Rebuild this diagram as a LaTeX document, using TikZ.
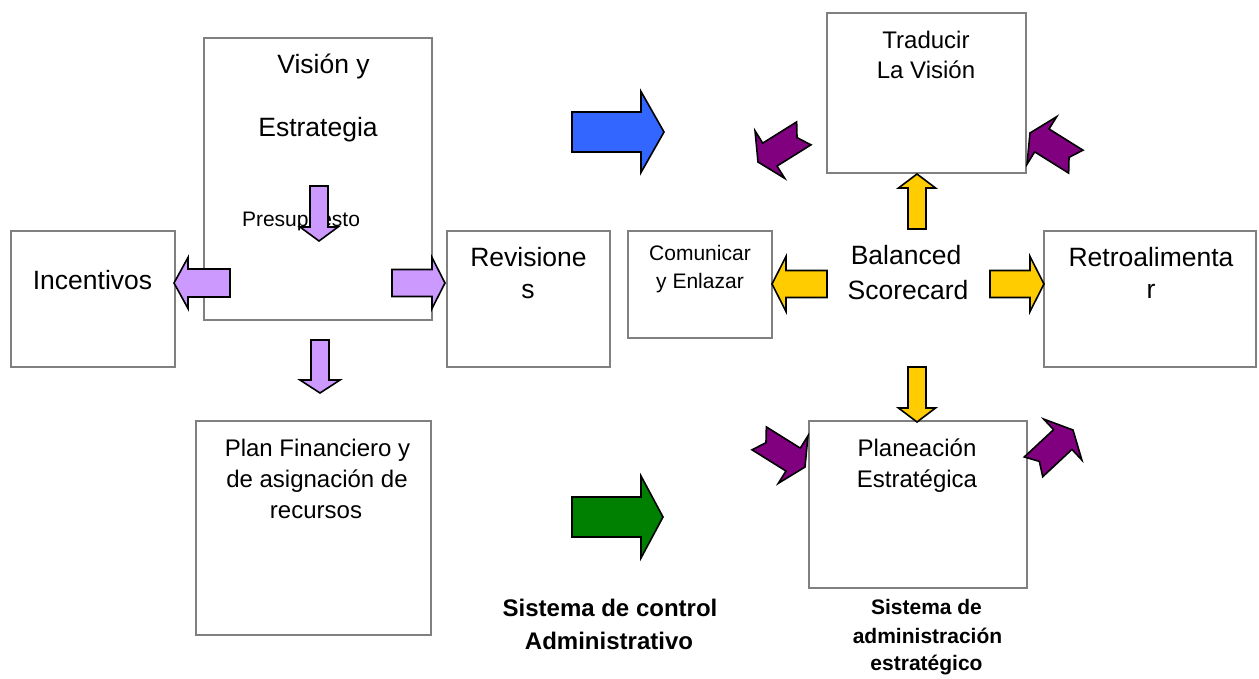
\documentclass[tikz,border=0pt]{standalone}
\usepackage{fontspec}
\setmainfont{Liberation Sans}
\definecolor{lav}{HTML}{CC99FF}
\definecolor{plum}{HTML}{800080}
\definecolor{gold}{HTML}{FFCC00}
\definecolor{bluearr}{HTML}{3366FF}
\definecolor{greenarr}{HTML}{008000}
% block arrow: style, tip, direction angle, total length, head length,
% shaft half-width, head half-width, tail notch depth
\newcommand\blockarr[8]{%
  \draw[#1, shift={#2}, rotate=#3] (0,0) -- (-#5,#7) -- (-#5,#6) -- (-#4,#6)
    -- (-#4+#8,0) -- (-#4,-#6) -- (-#5,-#6) -- (-#5,-#7) -- cycle;}
\begin{document}
\begin{tikzpicture}[x=1pt,y=-1pt,
  box/.style={draw=black!50, line width=1.6pt, fill=white, inner sep=0pt, anchor=north west},
  lbl/.style={inner sep=0pt, text depth=0pt},
  lg/.style={lbl, text height=19pt, font=\fontsize{26.5}{30}\selectfont},
  md/.style={lbl, text height=17.2pt, font=\fontsize{24}{28}\selectfont},
  sm/.style={lbl, text height=15pt, font=\fontsize{21}{25}\selectfont},
  bd/.style={lbl, text height=17.2pt, font=\bfseries\fontsize{24}{28}\selectfont},
  bds/.style={lbl, text height=15pt, font=\bfseries\fontsize{21}{25}\selectfont},
  arr/.style={draw=black, line width=1.6pt, line join=miter},
  lavarr/.style={arr, fill=lav},
  plumarr/.style={arr, fill=plum},
  goldarr/.style={arr, fill=gold},
  bluearrow/.style={arr, fill=bluearr},
  greenarrow/.style={arr, fill=greenarr}]
\useasboundingbox (0,0) rectangle (1259,678);

% boxes
\node[box, minimum width=228, minimum height=282] (vision) at (203,37) {};
\node[box, minimum width=164, minimum height=136] (incent) at (10,230) {};
\node[box, minimum width=163, minimum height=136] (revis) at (446,230) {};
\node[box, minimum width=144, minimum height=107] (comun) at (627,230) {};
\node[box, minimum width=199, minimum height=160] (traduc) at (826,12) {};
\node[box, minimum width=212, minimum height=136] (retro) at (1043,230) {};
\node[box, minimum width=235, minimum height=214] (plan) at (195,420) {};
\node[box, minimum width=218, minimum height=167] (planea) at (808,420) {};

% texts
\node[lg] (vision-a) at (323.5,64) {Visión y};
\node[lg] (vision-b) at (318,127) {Estrategia};
\node[sm] (presup) at (301,219) {Presupuesto};
\node[lg] (incent-a) at (92.5,280) {Incentivos};
\node[lg] (revis-a) at (528.5,257) {Revisione};
\node[lg] (revis-b) at (528,289) {s};
\node[sm] (comun-a) at (700,253) {Comunicar};
\node[sm] (comun-b) at (700,281) {y Enlazar};
\node[md] (traduc-a) at (926,40) {Traducir};
\node[md] (traduc-b) at (926,70) {La Visión};
\node[lg] (bsc-a) at (906,255) {Balanced};
\node[lg] (bsc-b) at (908,290) {Scorecard};
\node[lg] (retro-a) at (1151,257) {Retroalimenta};
\node[lg] (retro-b) at (1151,289) {r};
\node[md] (plan-a) at (317.5,448) {Plan Financiero y};
\node[md] (plan-b) at (317,479) {de asignación de};
\node[md] (plan-c) at (316,510) {recursos};
\node[md] (planea-a) at (917,448) {Planeación};
\node[md] (planea-b) at (917,479) {Estratégica};
\node[bd] (sca-a) at (610,608) {Sistema de control};
\node[bd] (sca-b) at (609,641) {Administrativo};
\node[bds] (sae-a) at (926.5,607) {Sistema de};
\node[bds] (sae-b) at (927.5,636) {administración};
\node[bds] (sae-c) at (926.5,663) {estratégico};

% arrows around the control system
\blockarr{lavarr}{(174,283)}{180}{56}{14}{14}{25.5}{0}
\blockarr{lavarr}{(445,283)}{0}{53}{13}{13.5}{25.5}{0}
\blockarr{lavarr}{(319,241)}{-90}{55}{14}{9}{19}{0}
\blockarr{lavarr}{(320,393)}{-90}{53}{13}{9}{20}{0}
\blockarr{bluearrow}{(664,132)}{0}{92}{23}{20}{40.5}{0}
\blockarr{greenarrow}{(663,517)}{0}{91}{22}{20}{41}{0}

% arrows around the balanced scorecard
\blockarr{goldarr}{(917,174)}{90}{55}{14}{9}{18.5}{0}
\blockarr{goldarr}{(772,284)}{180}{55}{14}{13.5}{27.5}{0}
\blockarr{goldarr}{(1044,284)}{0}{54}{14}{13.5}{27.5}{0}
\blockarr{goldarr}{(917,422)}{-90}{55}{14}{9}{18.5}{0}

% strategic management cycle
\blockarr{plumarr}{(758,162)}{212}{54}{14}{13.5}{28}{8}
\blockarr{plumarr}{(1030,133)}{148}{54}{14}{13.5}{28}{8}
\blockarr{plumarr}{(805,467)}{-32}{54}{14}{13.5}{28}{8}
\blockarr{plumarr}{(1073,430)}{43}{54}{14}{13.5}{28}{8}
\end{tikzpicture}
\end{document}
